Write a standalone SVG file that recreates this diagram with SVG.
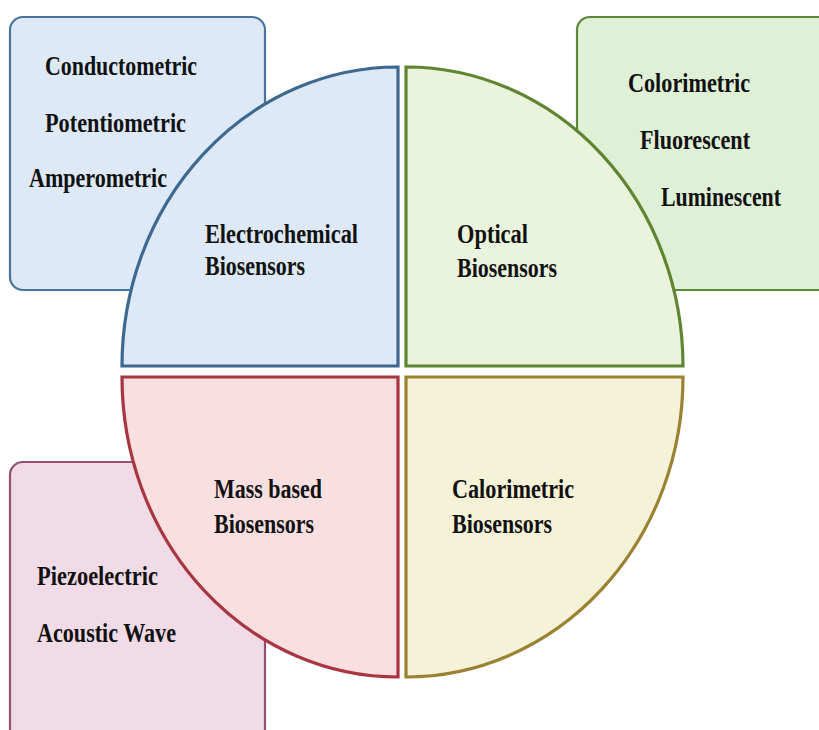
<svg xmlns="http://www.w3.org/2000/svg" width="819" height="730" viewBox="0 0 819 730">
<style>
text{font-family:"Liberation Serif","Times New Roman",serif;font-weight:bold;font-size:27px;fill:#111;}
.box{stroke-width:2.2;}
.q{stroke-width:3.2;stroke-linejoin:miter;}
</style>
<rect width="819" height="730" fill="#ffffff"/>
<g id="box-electrochemical">
<rect class="box" x="10" y="17" width="255" height="273" rx="13" fill="#dde9f6" stroke="#4a74a0"/>
<text x="45" y="75" textLength="152" lengthAdjust="spacingAndGlyphs">Conductometric</text>
<text x="45" y="132" textLength="141" lengthAdjust="spacingAndGlyphs">Potentiometric</text>
<text x="29" y="187" textLength="138" lengthAdjust="spacingAndGlyphs">Amperometric</text>
</g>
<g id="box-optical">
<rect class="box" x="577" y="17" width="260" height="273" rx="13" fill="#def0d6" stroke="#5a8738"/>
<text x="628" y="92" textLength="122" lengthAdjust="spacingAndGlyphs">Colorimetric</text>
<text x="640" y="149" textLength="110" lengthAdjust="spacingAndGlyphs">Fluorescent</text>
<text x="661" y="206" textLength="120" lengthAdjust="spacingAndGlyphs">Luminescent</text>
</g>
<g id="box-mass">
<rect class="box" x="10" y="462" width="255" height="280" rx="13" fill="#f0dbe6" stroke="#93506f"/>
<text x="37" y="585" textLength="121" lengthAdjust="spacingAndGlyphs">Piezoelectric</text>
<text x="37" y="642" textLength="139" lengthAdjust="spacingAndGlyphs">Acoustic Wave</text>
</g>
<g id="q-electrochemical">
<path class="q" d="M398,366 L122,366 A276,299 0 0 1 398,67 Z" fill="#dde9f6" stroke="#3d6890"/>
<text x="205" y="243" textLength="153" lengthAdjust="spacingAndGlyphs">Electrochemical</text>
<text x="205" y="275" textLength="100" lengthAdjust="spacingAndGlyphs">Biosensors</text>
</g>
<g id="q-optical">
<path class="q" d="M406,366 L406,67 A277,299 0 0 1 683,366 Z" fill="#eaf4dc" stroke="#5f8532"/>
<text x="457" y="243" textLength="71" lengthAdjust="spacingAndGlyphs">Optical</text>
<text x="457" y="277" textLength="100" lengthAdjust="spacingAndGlyphs">Biosensors</text>
</g>
<g id="q-mass">
<path class="q" d="M398,377 L398,677 A276,300 0 0 1 122,377 Z" fill="#f9dfdf" stroke="#a83542"/>
<text x="214" y="498" textLength="108" lengthAdjust="spacingAndGlyphs">Mass based</text>
<text x="214" y="533" textLength="100" lengthAdjust="spacingAndGlyphs">Biosensors</text>
</g>
<g id="q-calorimetric">
<path class="q" d="M406,377 L683,377 A277,300 0 0 1 406,677 Z" fill="#f5f2d8" stroke="#9a8232"/>
<text x="452" y="498" textLength="122" lengthAdjust="spacingAndGlyphs">Calorimetric</text>
<text x="452" y="533" textLength="100" lengthAdjust="spacingAndGlyphs">Biosensors</text>
</g>
<g id="connectors"></g>
</svg>
